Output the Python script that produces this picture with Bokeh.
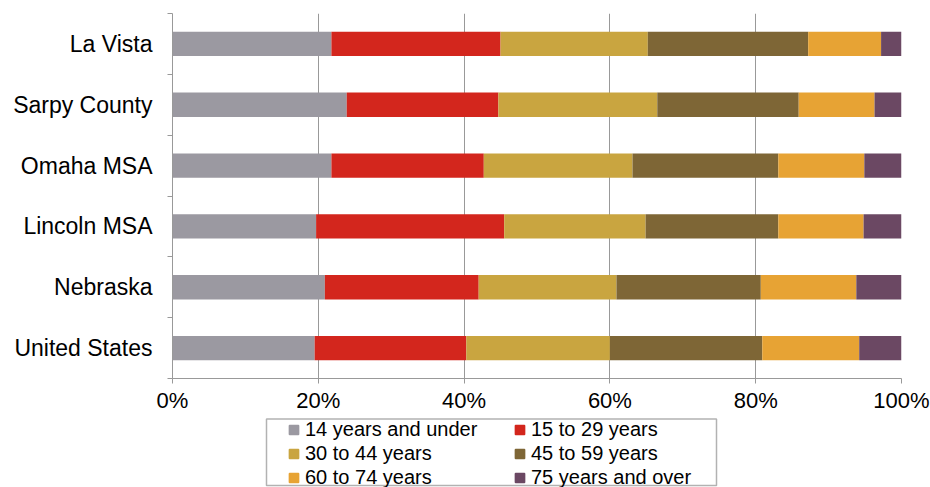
from bokeh.plotting import figure
from bokeh.layouts import column
from bokeh.models import (ColumnDataSource, Range1d, FixedTicker, PrintfTickFormatter,
                          Legend, LegendItem, BoxAnnotation)
from bokeh.embed import file_html
from bokeh.resources import INLINE

# ---- data (top to bottom) ----
places = ["La Vista", "Sarpy County", "Omaha MSA", "Lincoln MSA", "Nebraska", "United States"]
age_groups = ["14 years and under", "15 to 29 years", "30 to 44 years",
              "45 to 59 years", "60 to 74 years", "75 years and over"]
age_0_14 = [21.8, 23.9, 21.8, 19.7, 20.9, 19.5]
age_15_29 = [23.2, 20.8, 20.9, 25.8, 21.1, 20.8]
age_30_44 = [20.2, 21.8, 20.4, 19.4, 18.9, 19.7]
age_45_59 = [22.0, 19.4, 20.0, 18.2, 19.8, 20.9]
age_60_74 = [10.0, 10.4, 11.8, 11.7, 13.1, 13.3]
age_75_up = [2.8, 3.7, 5.1, 5.2, 6.2, 5.8]
x_ticks = [0, 20, 40, 60, 80, 100]
colors = ["#9b99a1", "#d3261d", "#c9a540", "#7e6636", "#e7a334", "#6b4863"]

FONT = "Liberation Sans"
n = len(places)
keys = ["a0", "a1", "a2", "a3", "a4", "a5"]
ypos = [n - i - 0.5 for i in range(n)]
source = ColumnDataSource(dict(y=ypos, a0=age_0_14, a1=age_15_29, a2=age_30_44,
                               a3=age_45_59, a4=age_60_74, a5=age_75_up))

# ---------------- main chart ----------------
p = figure(width=930, height=417, output_backend="svg", toolbar_location=None,
           x_range=Range1d(0, 100), y_range=Range1d(0, n),
           min_border_left=172, min_border_right=29, min_border_top=13,
           min_border_bottom=39)
p.outline_line_color = None
p.background_fill_color = "white"
p.border_fill_color = "white"

renderers = p.hbar_stack(keys, y="y", height=0.4, color=colors, source=source,
                         line_color=None)

xa = p.xaxis[0]
xa.ticker = FixedTicker(ticks=x_ticks)
xa.formatter = PrintfTickFormatter(format="%d%%")
xa.axis_line_color = "#999999"
xa.major_tick_line_color = "#999999"
xa.major_tick_out = 5
xa.major_tick_in = 0
xa.minor_tick_line_color = None
xa.major_label_text_font = FONT
xa.major_label_text_font_size = "22px"
xa.major_label_text_color = "black"
xa.major_label_standoff = 4

ya = p.yaxis[0]
ya.ticker = FixedTicker(ticks=ypos, minor_ticks=list(range(n + 1)))
ya.major_label_overrides = {y: name for y, name in zip(ypos, places)}
ya.axis_line_color = "#999999"
ya.major_tick_line_color = None
ya.major_tick_out = 0
ya.major_tick_in = 0
ya.minor_tick_line_color = "#999999"
ya.minor_tick_out = 5
ya.minor_tick_in = 0
ya.major_label_text_font = FONT
ya.major_label_text_font_size = "23px"
ya.major_label_text_color = "black"
ya.major_label_standoff = 15

p.xgrid.grid_line_color = "#999999"
p.xgrid.ticker = FixedTicker(ticks=x_ticks)
p.ygrid.grid_line_color = None

# ---------------- legend strip (frame aligned with the chart frame) ----------------
q = figure(width=930, height=70, output_backend="svg", toolbar_location=None,
           x_range=Range1d(0, 729), y_range=Range1d(0, 70),
           x_axis_location=None, y_axis_location=None, min_border=0)
q.outline_line_color = None
q.grid.grid_line_color = None
q.background_fill_color = "white"
q.border_fill_color = "white"

# legend swatches (hidden renderers of the same data, only their legend glyph shows)
swatches = [q.scatter(x=k, y="y", source=source, marker="square", color=c,
                      line_color=c, line_width=1.5, visible=False)
            for k, c in zip(keys, colors)]

q.add_layout(BoxAnnotation(left=94, right=544, bottom=2, top=68.5,
                           fill_color=None, fill_alpha=0, line_color="black",
                           line_width=1.5))

common = dict(orientation="vertical", margin=0, padding=0, spacing=1,
              glyph_width=23, glyph_height=23, label_standoff=0,
              label_height=23, label_text_font=FONT, label_text_font_size="20px",
              label_text_color="black", border_line_color=None,
              background_fill_alpha=0.0, inactive_fill_alpha=0.0)
leg1 = Legend(items=[LegendItem(label=age_groups[i], renderers=[swatches[i]]) for i in (0, 2, 4)],
              location=(110, -2), **common)
leg2 = Legend(items=[LegendItem(label=age_groups[i], renderers=[swatches[i]]) for i in (1, 3, 5)],
              location=(336, -2), **common)
q.add_layout(leg1, "center")
q.add_layout(leg2, "center")

layout = column(p, q, spacing=0)
open("out.html", "w").write(file_html(layout, INLINE))
